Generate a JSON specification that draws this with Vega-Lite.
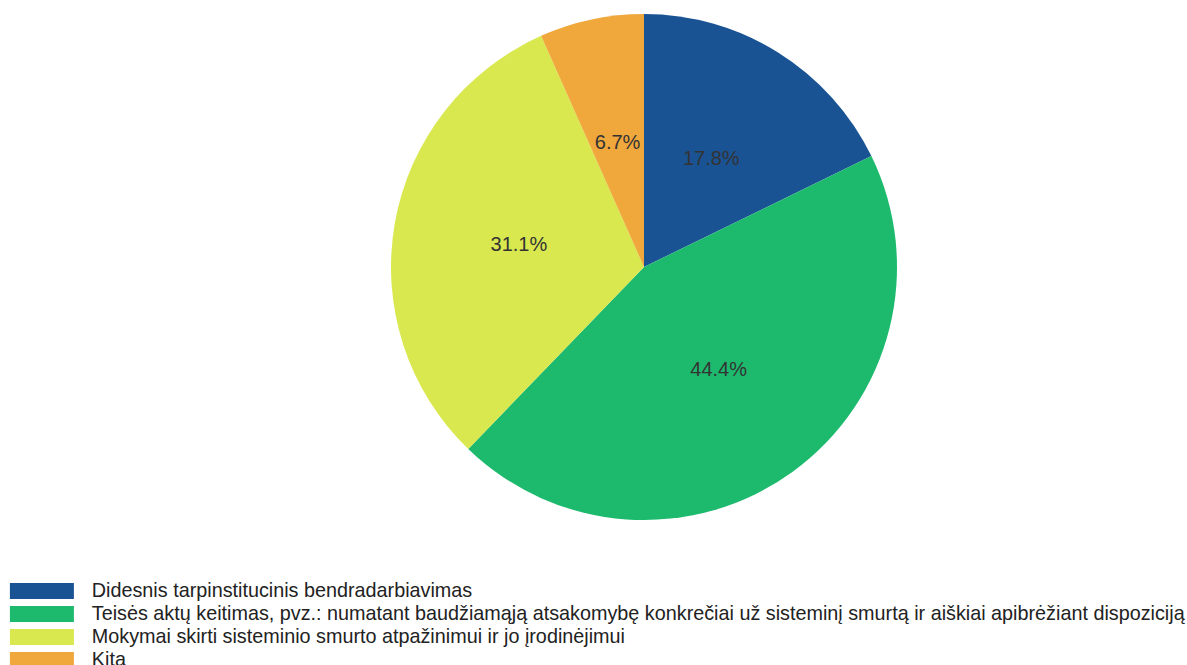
{
  "$schema": "https://vega.github.io/schema/vega-lite/v6.json",
  "width": 506,
  "height": 506,
  "autosize": "none",
  "padding": {"left": 391, "top": 14, "right": 290, "bottom": 145},
  "background": "white",
  "config": {"view": {"stroke": null}, "font": "Liberation Sans"},
  "data": {"values": [
    {"category": "Didesnis tarpinstitucinis bendradarbiavimas", "count": 8, "order": 1, "label": "17.8%"},
    {"category": "Teisės aktų keitimas, pvz.: numatant baudžiamąją atsakomybę konkrečiai už sisteminį smurtą ir aiškiai apibrėžiant dispoziciją", "count": 20, "order": 2, "label": "44.4%"},
    {"category": "Mokymai skirti sisteminio smurto atpažinimui ir jo įrodinėjimui", "count": 14, "order": 3, "label": "31.1%"},
    {"category": "Kita", "count": 3, "order": 4, "label": "6.7%"}
  ]},
  "encoding": {
    "theta": {"field": "count", "type": "quantitative", "stack": true},
    "order": {"field": "order", "type": "quantitative"},
    "color": {
      "field": "category", "type": "nominal",
      "sort": ["Didesnis tarpinstitucinis bendradarbiavimas", "Teisės aktų keitimas, pvz.: numatant baudžiamąją atsakomybę konkrečiai už sisteminį smurtą ir aiškiai apibrėžiant dispoziciją", "Mokymai skirti sisteminio smurto atpažinimui ir jo įrodinėjimui", "Kita"],
      "scale": {"range": ["#1a5394", "#1dba6e", "#d9e84f", "#f0a73c"]},
      "legend": {
        "title": null,
        "orient": "none",
        "legendX": -359,
        "legendY": 567,
        "padding": 0,
        "symbolType": "M-4,-1H4V1H-4Z",
        "symbolSize": 256,
        "symbolStrokeWidth": 0,
        "symbolOpacity": 1,
        "labelOffset": 40,
        "labelFontSize": 19.8,
        "labelColor": "#222222",
        "labelLimit": 1200,
        "rowPadding": 2
      }
    }
  },
  "layer": [
    {"mark": {"type": "arc", "outerRadius": 253}},
    {"mark": {"type": "text", "radius": 127, "fontSize": 20, "color": "#333333"},
     "encoding": {"text": {"field": "label"}, "color": {"value": "#333333"}}}
  ]
}
